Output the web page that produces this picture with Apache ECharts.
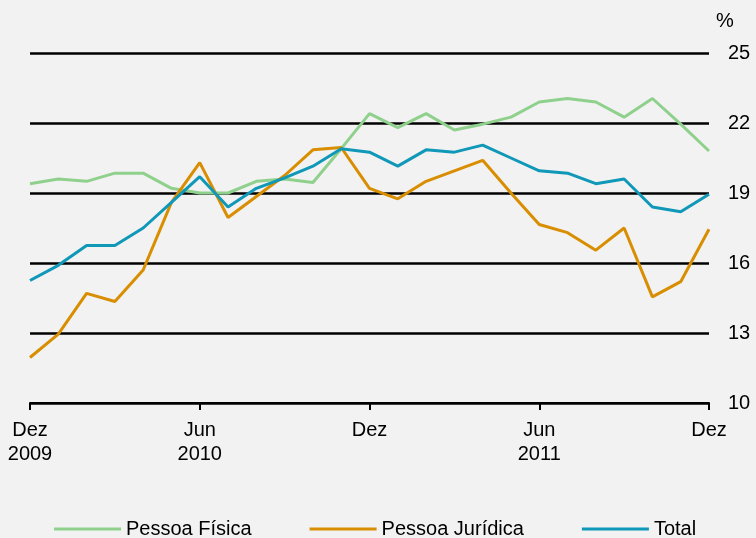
<!DOCTYPE html>
<html>
<head>
<meta charset="utf-8">
<script src="https://cdn.jsdelivr.net/npm/echarts@6/dist/echarts.min.js"></script>
<style>
  html, body { margin: 0; padding: 0; background: #f2f2f2; }
  #main { width: 756px; height: 538px; }
</style>
</head>
<body>
<div id="main"></div>
<script>
// meses de dez/2009 a dez/2011
var months = [
  "Dez\n2009", "Jan", "Fev", "Mar", "Abr", "Mai", "Jun\n2010", "Jul", "Ago", "Set", "Out", "Nov",
  "Dez", "Jan", "Fev", "Mar", "Abr", "Mai", "Jun\n2011", "Jul", "Ago", "Set", "Out", "Nov", "Dez"
];
var pessoaFisica = [
  19.4, 19.6, 19.5, 19.85, 19.85, 19.2, 19.0, 19.0, 19.5, 19.6, 19.45, 20.9,
  22.4, 21.8, 22.4, 21.7, 21.95, 22.25, 22.9, 23.05, 22.9, 22.25, 23.05, 21.95, 20.8
];
var pessoaJuridica = [
  11.95, 12.95, 14.7, 14.35, 15.7, 18.6, 20.3, 17.95, 18.85, 19.75, 20.85, 20.95,
  19.2, 18.75, 19.5, 19.95, 20.4, 19.0, 17.65, 17.3, 16.55, 17.5, 14.55, 15.2, 17.45
];
var total = [
  15.25, 15.9, 16.75, 16.75, 17.5, 18.6, 19.7, 18.4, 19.2, 19.65, 20.15, 20.9,
  20.75, 20.15, 20.85, 20.75, 21.05, 20.5, 19.95, 19.85, 19.4, 19.6, 18.4, 18.2, 18.95
];
var yTicks = { min: 10, max: 25, step: 3 };

var font = "Arial, 'Liberation Sans', sans-serif";
var chart = echarts.init(document.getElementById("main"));

function showTick(index) {
  return index % 6 === 0;
}

var opt = {
  backgroundColor: "#f2f2f2",
  animation: false,
  textStyle: { fontFamily: font, color: "#000" },
  grid: { left: 30, right: 47, top: 53, bottom: 135 },
  legend: {
    left: 49,
    top: 514,
    icon: "rect",
    itemWidth: 67,
    itemHeight: 3,
    itemGap: 58,
    textStyle: { fontSize: 20, color: "#000", fontFamily: font },
    data: ["Pessoa Física", "Pessoa Jurídica", "Total"]
  },
  xAxis: {
    type: "category",
    data: months,
    boundaryGap: false,
    axisLine: { lineStyle: { color: "#000", width: 2 } },
    axisTick: { interval: showTick, length: 7, lineStyle: { color: "#000", width: 2 } },
    axisLabel: {
      interval: showTick,
      fontSize: 20,
      lineHeight: 24,
      margin: 15,
      color: "#000",
      fontFamily: font
    },
    splitLine: { show: false }
  },
  yAxis: {
    type: "value",
    position: "right",
    min: yTicks.min,
    max: yTicks.max,
    interval: yTicks.step,
    name: "%",
    nameGap: 22,
    nameTextStyle: { fontSize: 20, color: "#000", fontFamily: font, align: "left", padding: [0, 0, 0, 7] },
    axisLine: { show: false },
    axisTick: { show: false },
    axisLabel: { fontSize: 20, margin: 19, color: "#000", fontFamily: font },
    splitLine: { lineStyle: { color: "#000", width: 2.5 } }
  },
  series: [
    {
      name: "Pessoa Física",
      type: "line",
      data: pessoaFisica,
      showSymbol: false,
      color: "#8fd18c",
      lineStyle: { width: 3 }
    },
    {
      name: "Pessoa Jurídica",
      type: "line",
      data: pessoaJuridica,
      showSymbol: false,
      color: "#d88e00",
      lineStyle: { width: 3 }
    },
    {
      name: "Total",
      type: "line",
      data: total,
      showSymbol: false,
      color: "#0f98b8",
      lineStyle: { width: 3 }
    }
  ]
};
chart.setOption(opt);
</script>
</body>
</html>
